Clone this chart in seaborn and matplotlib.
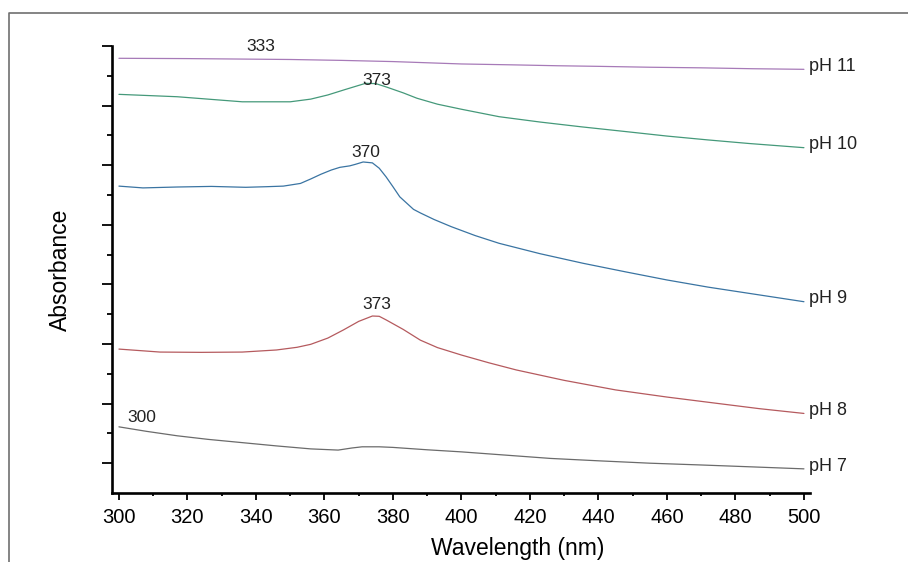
import numpy as np
import pandas as pd
import seaborn as sns
import matplotlib
import matplotlib.pyplot as plt
from matplotlib.lines import Line2D
from matplotlib.ticker import MultipleLocator, FixedLocator

matplotlib.use('Agg')

# wavelength (nm) / absorbance (a.u.), one pair per spectrum
wl_ph11 = [300, 320, 340, 350, 365, 380, 400, 415, 428, 440, 455, 470, 485, 500]
ab_ph11 = [1.459, 1.458, 1.456, 1.455, 1.452, 1.448, 1.440, 1.437, 1.434, 1.432, 1.429, 1.427, 1.424, 1.422]

wl_ph10 = [300, 317, 336, 350, 356, 361, 366, 372, 375, 378, 383, 387, 393, 400, 411, 423, 435, 448, 460, 472, 484, 500]
ab_ph10 = [1.338, 1.330, 1.313, 1.313, 1.322, 1.336, 1.354, 1.375, 1.374, 1.363, 1.343, 1.325, 1.305, 1.288, 1.263, 1.245, 1.229, 1.213, 1.198, 1.185, 1.173, 1.159]

wl_ph9 = [300, 307, 317, 327, 337, 343, 348, 353, 356, 359, 362, 364.5, 367.4, 369, 371.3, 374, 376, 378, 380, 382, 386, 388, 392, 397, 404, 411, 423, 435.5, 448, 460, 472, 484, 500]
ab_ph9 = [1.030, 1.024, 1.027, 1.029, 1.026, 1.028, 1.030, 1.039, 1.054, 1.070, 1.084, 1.093, 1.098, 1.103, 1.111, 1.108, 1.090, 1.061, 1.028, 0.994, 0.952, 0.940, 0.918, 0.894, 0.864, 0.838, 0.803, 0.771, 0.742, 0.715, 0.691, 0.670, 0.642]

wl_ph8 = [300, 312, 324, 336, 346, 352, 356, 361, 365.5, 370, 374, 376, 378, 383, 388, 393, 400, 408, 416, 430, 445, 460, 474.5, 487, 500]
ab_ph8 = [0.483, 0.473, 0.472, 0.473, 0.480, 0.489, 0.499, 0.520, 0.547, 0.576, 0.594, 0.593, 0.581, 0.549, 0.513, 0.488, 0.463, 0.437, 0.413, 0.378, 0.346, 0.322, 0.301, 0.283, 0.267]

wl_ph7 = [300, 308, 317, 326, 336, 346, 356, 364, 368, 371, 376, 380, 390, 400, 413, 426, 440, 455, 470, 484, 500]
ab_ph7 = [0.222, 0.207, 0.192, 0.180, 0.169, 0.158, 0.148, 0.144, 0.151, 0.155, 0.155, 0.153, 0.145, 0.138, 0.127, 0.116, 0.108, 0.100, 0.094, 0.088, 0.081]

series_names = ['pH 7', 'pH 8', 'pH 9', 'pH 10', 'pH 11']
series_colors = ['#6b6b6b', '#b55a5e', '#3a74a2', '#45997a', '#a77ab8']

# peak annotations: text, wavelength, absorbance
peak_text = ['333', '373', '370', '373', '300']
peak_x = [341.5, 375.2, 372.0, 375.2, 306.8]
peak_y = [1.500, 1.386, 1.144, 0.631, 0.253]

spectra = {
    'pH 7': (wl_ph7, ab_ph7),
    'pH 8': (wl_ph8, ab_ph8),
    'pH 9': (wl_ph9, ab_ph9),
    'pH 10': (wl_ph10, ab_ph10),
    'pH 11': (wl_ph11, ab_ph11),
}
df = pd.concat(
    [pd.DataFrame({'wl': w, 'ab': a, 'ph': name}) for name, (w, a) in spectra.items()],
    ignore_index=True,
)

sns.set_theme(style='ticks')
plt.rcParams['font.family'] = ['Liberation Sans', 'DejaVu Sans']

fig = plt.figure(figsize=(9.08, 5.62), dpi=100)
ax = fig.add_axes([0.1233, 0.1228, 0.7687, 0.7952])

sns.lineplot(data=df, x='wl', y='ab', hue='ph', hue_order=series_names,
             palette=dict(zip(series_names, series_colors)), linewidth=0.9,
             estimator=None, sort=False, legend=False, ax=ax)

ax.set_xlim(297.96, 501.75)
ax.set_ylim(0, 1.5)
ax.xaxis.set_major_locator(MultipleLocator(20))
ax.xaxis.set_minor_locator(MultipleLocator(10))
ax.yaxis.set_major_locator(FixedLocator(np.arange(0.1, 1.51, 0.2)))
ax.yaxis.set_minor_locator(FixedLocator(np.arange(0.2, 1.41, 0.2)))
ax.set_yticklabels([])

for s in ['top', 'right']:
    ax.spines[s].set_visible(False)
for s in ['left', 'bottom']:
    ax.spines[s].set_linewidth(1.9)
    ax.spines[s].set_color('black')

ax.tick_params(axis='y', which='major', length=7, width=1.3, color='black', direction='out')
ax.tick_params(axis='y', which='minor', length=3.6, width=1.3, color='black', direction='out')
ax.tick_params(axis='x', which='major', length=5, width=1.3, color='black', direction='out',
               labelsize=14.5, pad=6, labelcolor='black')
ax.tick_params(axis='x', which='minor', length=2.5, width=1.3, color='black', direction='out')

ax.set_xlabel('Wavelength (nm)', fontsize=16.5, color='black')
ax.set_ylabel('Absorbance', fontsize=16.5, color='black')
ax.xaxis.set_label_coords(0.581, -0.098)
ax.yaxis.set_label_coords(-0.057, 0.5)

# series labels at the right end of each curve
for name in series_names:
    w, a = spectra[name]
    ax.annotate(name, xy=(w[-1], a[-1]), xytext=(4, 2), textcoords='offset points',
                ha='left', va='center', fontsize=13, color='#222222', annotation_clip=False)

for t, px, py in zip(peak_text, peak_x, peak_y):
    ax.text(px, py, t, ha='center', va='center', fontsize=12.5, color='#222222', clip_on=False)

# partial frame around the picture
fig.add_artist(Line2D([9 / 908, 9 / 908, 1.0], [0.0, 1 - 13 / 562, 1 - 13 / 562],
                      transform=fig.transFigure, color='#707070', linewidth=1.2))

fig.savefig('out.png', dpi=100)
plt.close(fig)
